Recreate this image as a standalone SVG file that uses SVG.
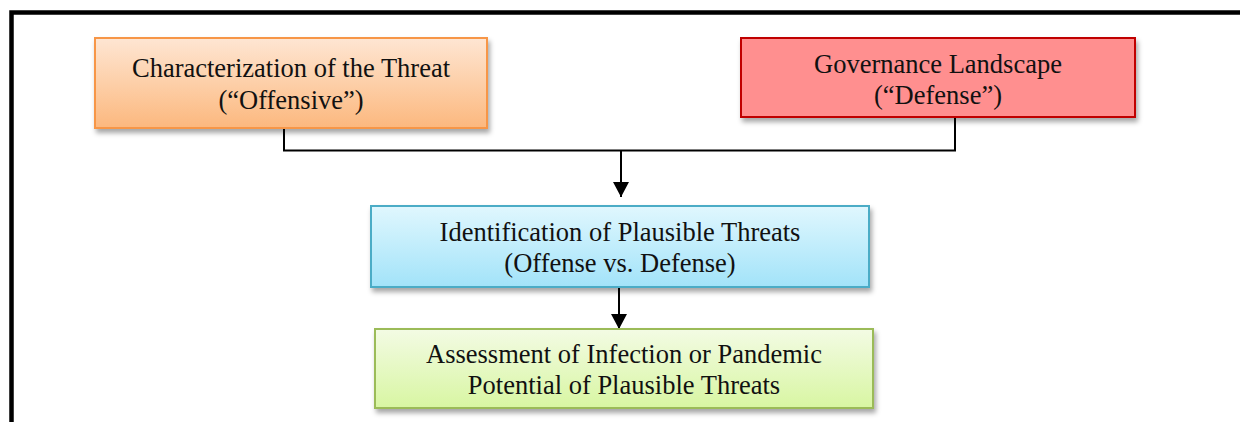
<svg xmlns="http://www.w3.org/2000/svg" width="1240" height="422" viewBox="0 0 1240 422">
<style>
.t{font-family:"Liberation Serif","Times New Roman",serif;font-size:26.5px;fill:#111;text-anchor:middle}
.box{stroke-width:2}
.c{fill:none;stroke:#000;stroke-width:2}
</style>
<defs>
<filter id="sh" x="-10%" y="-20%" width="120%" height="150%">
<feDropShadow dx="2" dy="4" stdDeviation="2.5" flood-color="#000" flood-opacity="0.35"/>
</filter>
<linearGradient id="gO" x1="0" y1="0" x2="0" y2="1"><stop offset="0" stop-color="#fee6d3"/><stop offset="1" stop-color="#fcb87e"/></linearGradient>
<linearGradient id="gB" x1="0" y1="0" x2="0" y2="1"><stop offset="0" stop-color="#e0f7fe"/><stop offset="1" stop-color="#a2e3f9"/></linearGradient>
<linearGradient id="gG" x1="0" y1="0" x2="0" y2="1"><stop offset="0" stop-color="#f3fbe4"/><stop offset="1" stop-color="#d8f6a2"/></linearGradient>
<marker id="ah" markerUnits="userSpaceOnUse" markerWidth="18" markerHeight="16" refX="15" refY="8" orient="auto">
<path d="M0,0 L15,8 L0,16 Z" fill="#000"/>
</marker>
</defs>
<path d="M11.5,422 V12.5 H1240" fill="none" stroke="#000" stroke-width="4.5"/>
<g id="connectors">
<path class="c" d="M284,128 V150.5 H955 V117"/>
<path class="c" d="M621,150.5 V197" marker-end="url(#ah)"/>
<path class="c" d="M619,278 V329" marker-end="url(#ah)"/>
</g>
<g id="threat">
<rect class="box" x="95" y="38" width="392" height="90" fill="url(#gO)" stroke="#f79646" filter="url(#sh)"/>
<text class="t" x="291" y="77">Characterization of the Threat</text>
<text class="t" x="291" y="109">(“Offensive”)</text>
</g>
<g id="governance">
<rect class="box" x="741" y="38" width="394" height="79" fill="#ff8f8f" stroke="#c00000" filter="url(#sh)"/>
<text class="t" x="938" y="73">Governance Landscape</text>
<text class="t" x="938" y="104">(“Defense”)</text>
</g>
<g id="identification">
<rect class="box" x="371" y="206" width="498" height="81" fill="url(#gB)" stroke="#4bacc6" filter="url(#sh)"/>
<text class="t" x="620" y="241">Identification of Plausible Threats</text>
<text class="t" x="620" y="272">(Offense vs. Defense)</text>
</g>
<g id="assessment">
<rect class="box" x="375" y="329" width="498" height="79" fill="url(#gG)" stroke="#9bbb59" filter="url(#sh)"/>
<text class="t" x="624" y="363">Assessment of Infection or Pandemic</text>
<text class="t" x="624" y="394">Potential of Plausible Threats</text>
</g>
</svg>
